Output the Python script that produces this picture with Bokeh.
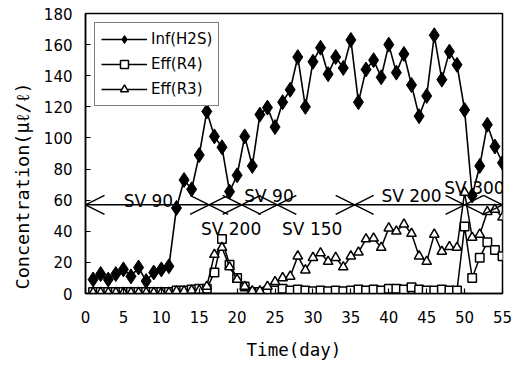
from bokeh.plotting import figure
from bokeh.models import ColumnDataSource, Arrow, OpenHead, Legend, LegendItem, FixedTicker, Range1d, Title
from bokeh.core.properties import value
from bokeh.embed import file_html
from bokeh.resources import INLINE

# ---------------- data ----------------
days = list(range(1, 56))

inf_h2s = [9, 12.5, 9, 12.5, 15.5, 11, 16.7, 8, 13.5, 15.5,
           17.5, 55, 73, 67, 89, 117, 101, 94, 65.5, 76,
           101, 82, 115, 119.5, 107, 123, 131, 152, 120, 149,
           158, 141, 152, 145, 163, 123, 144, 150, 139, 160,
           142, 154, 134, 114, 127, 166, 137.5, 155.5, 147, 118,
           63, 82, 108.5, 94.5, 84]

eff_r4 = [1, 1, 1, 1, 1, 1, 1, 1, 1, 1,
          1, 2, 2, 2.5, 3, 3, 13.5, 35, 18.5, 10,
          4.5, 1, 1, 1.5, 2, 3, 2, 2.5, 2, 1.5,
          2, 1.5, 2, 1.5, 2, 2.5, 2, 2.5, 2, 3,
          3, 2.5, 4, 2.5, 2, 2, 2.5, 2, 2, 43,
          10, 23, 33, 28, 24]

eff_r3 = [0.5, 0.5, 0.5, 0.5, 0.5, 0.5, 0.5, 0.5, 0.5, 0.5,
          0.5, 1.5, 1.5, 2, 2, 4.5, 25, 29.5, 17, 9,
          4.5, 1.5, 1.5, 4.5, 7.5, 10, 11, 24, 15, 23,
          26, 20.5, 23, 17, 24, 26.5, 35, 35.5, 29.5, 42,
          40, 44.5, 38.5, 24, 20.5, 38, 27, 30, 29.5, 65,
          36, 38, 52.5, 54, 49]

series_names = ["Inf(H2S)", "Eff(R4)", "Eff(R3)"]

sv_level = 57
phase_bounds = [0, 16.3, 20.6, 25.3, 35.5, 50, 55]
sv_labels = ["SV 90", "SV 200", "SV 90", "SV 150", "SV 200", "SV 300"]
sv_label_day = [8.3, 19.2, 24.2, 29.9, 43.0, 51.3]
sv_label_dy = [-4, 24, -9, 24, -9, -17]

x_ticks = list(range(0, 56, 5))
y_ticks = list(range(0, 181, 20))

x_title = "Time(day)"
y_title = "Concentration(\u03bc\u2113/\u2113)"

FONT = "DejaVu Sans"
TITLE_FONT = "DejaVu Sans Mono"

# ---------------- figure ----------------
p = figure(width=514, height=364, output_backend="svg", toolbar_location=None,
           x_range=Range1d(0, 55), y_range=Range1d(0, 180),
           min_border_left=85, min_border_right=12, min_border_top=13, min_border_bottom=71)

p.xgrid.visible = False
p.ygrid.visible = False
p.outline_line_color = "black"
p.outline_line_width = 1.5
p.background_fill_color = "white"
p.border_fill_color = "white"

for ax in (p.xaxis[0], p.yaxis[0]):
    ax.axis_line_color = "black"
    ax.axis_line_width = 1.5
    ax.major_tick_in = 5
    ax.major_tick_out = 0
    ax.minor_tick_line_color = None
    ax.major_tick_line_color = "black"
    ax.major_tick_line_width = 1.2
    ax.major_label_text_font = FONT
    ax.major_label_text_font_size = "15px"
    ax.major_label_text_color = "black"
    ax.axis_label_text_font = TITLE_FONT
    ax.axis_label_text_font_style = "normal"
    ax.axis_label_text_color = "black"

p.xaxis.ticker = FixedTicker(ticks=x_ticks)
p.yaxis.ticker = FixedTicker(ticks=y_ticks)
p.xaxis.axis_label = x_title
p.xaxis.axis_label_text_font_size = "17.5px"
p.xaxis.major_label_standoff = 17
p.xaxis.axis_label_standoff = 14
p.yaxis.major_label_standoff = 13

# y title, placed in the left panel, starting near the bottom like the original
p.add_layout(Title(text=y_title, align="left", offset=4, standoff=16,
                   text_font=TITLE_FONT, text_font_size="18.5px", text_font_style="normal",
                   text_color="black"), "left")

src = ColumnDataSource(dict(day=days, inf=inf_h2s, r4=eff_r4, r3=eff_r3))

# series
l1 = p.line("day", "inf", source=src, line_color="black", line_width=1.6)
m1 = p.scatter("day", "inf", source=src, marker="diamond", size=15,
               fill_color="black", line_color="black")
l2 = p.line("day", "r4", source=src, line_color="black", line_width=1.5)
m2 = p.scatter("day", "r4", source=src, marker="square", size=8.5,
               fill_color="white", line_color="black", line_width=1.5)
l3 = p.line("day", "r3", source=src, line_color="black", line_width=1.5)
m3 = p.scatter("day", "r3", source=src, marker="triangle", size=9.5,
               fill_color="white", line_color="black", line_width=1.5)

# SV annotation
arrow_src = ColumnDataSource(dict(
    x0=phase_bounds[:-1], x1=phase_bounds[1:],
    y=[sv_level] * (len(phase_bounds) - 1)))
p.add_layout(Arrow(start=OpenHead(size=19, line_width=1.5, line_color="black"),
                   end=OpenHead(size=19, line_width=1.5, line_color="black"),
                   x_start="x0", y_start="y", x_end="x1", y_end="y",
                   source=arrow_src, line_width=1.5, line_color="black"))

lab_src = ColumnDataSource(dict(x=sv_label_day, y=[sv_level] * len(sv_labels),
                                t=sv_labels, dy=sv_label_dy))
p.text("x", "y", text="t", y_offset="dy", source=lab_src,
       text_font=value(FONT), text_font_size="17px", text_color="black",
       text_align="center", text_baseline="alphabetic")

legend = Legend(items=[
    LegendItem(label=series_names[0], renderers=[l1, m1]),
    LegendItem(label=series_names[1], renderers=[l2, m2]),
    LegendItem(label=series_names[2], renderers=[l3, m3]),
], location="top_left", margin=9, padding=6, spacing=5,
   glyph_width=46, glyph_height=20, label_height=20, label_standoff=4,
   border_line_color="black", border_line_width=1.5,
   label_text_font=FONT, label_text_font_size="15px", label_text_color="black",
   background_fill_color="white", background_fill_alpha=1.0)
p.add_layout(legend)

open("out.html", "w").write(file_html(p, INLINE))
